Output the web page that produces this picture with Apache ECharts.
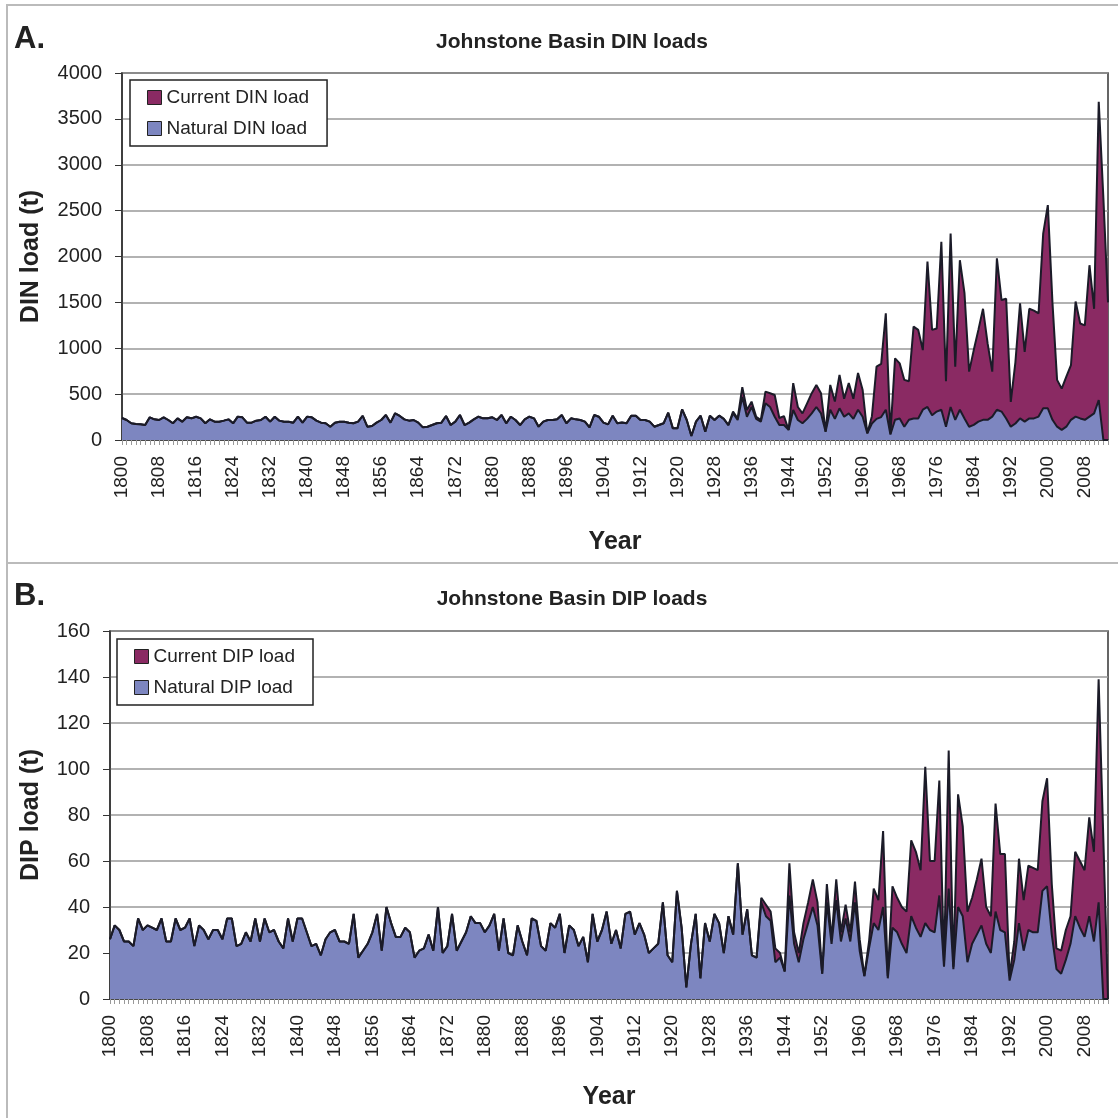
<!DOCTYPE html>
<html>
<head>
<meta charset="utf-8">
<script src="https://cdn.jsdelivr.net/npm/echarts@6/dist/echarts.min.js"></script>
<style>
  html, body { margin: 0; padding: 0; background: #fff; }
  #chart { width: 1118px; height: 1118px; }
</style>
</head>
<body>
<div id="chart"></div>
<script>
// years on the category axis
const firstYear = 1800
const lastYear = 2013
const years = []
for (let y = firstYear; y <= lastYear; y++) years.push(String(y))

// DIN loads (t), one value per year, 1800..2013
const dinNatural = [
  240, 218, 182, 175, 171, 163, 247, 225, 218, 247,
  218, 182, 236, 200, 247, 236, 254, 236, 182, 225,
  200, 200, 211, 225, 182, 254, 247, 189, 189, 211,
  218, 254, 200, 254, 211, 200, 200, 189, 254, 189,
  254, 247, 211, 189, 182, 145, 189, 200, 200, 189,
  182, 200, 262, 145, 152, 189, 218, 272, 189, 291,
  262, 225, 211, 218, 189, 138, 145, 163, 182, 189,
  262, 163, 200, 272, 163, 189, 225, 254, 236, 236,
  247, 218, 272, 182, 254, 218, 163, 225, 254, 236,
  145, 200, 218, 218, 225, 272, 182, 236, 225, 218,
  200, 138, 272, 254, 190, 170, 265, 182, 190, 182,
  265, 265, 218, 218, 200, 145, 163, 182, 298, 127,
  127, 334, 218, 44, 200, 265, 91, 265, 218, 265,
  230, 163, 290, 218, 470, 254, 360, 230, 200, 400,
  360, 254, 163, 163, 110, 327, 218, 182, 230, 290,
  360, 290, 91, 330, 230, 345, 254, 290, 230, 330,
  254, 73, 180, 230, 250, 330, 60, 220, 235, 145,
  220, 235, 235, 330, 360, 270, 310, 330, 145, 360,
  220, 330, 235, 145, 165, 200, 220, 220, 255, 330,
  310, 235, 145, 180, 235, 200, 235, 235, 255, 345,
  345, 220, 145, 110, 145, 220, 255, 235, 220, 255,
  290, 436, 0, 0
]
const dinCurrent = [
  240, 218, 182, 175, 171, 163, 247, 225, 218, 247,
  218, 182, 236, 200, 247, 236, 254, 236, 182, 225,
  200, 200, 211, 225, 182, 254, 247, 189, 189, 211,
  218, 254, 200, 254, 211, 200, 200, 189, 254, 189,
  254, 247, 211, 189, 182, 145, 189, 200, 200, 189,
  182, 200, 262, 145, 152, 189, 218, 272, 189, 291,
  262, 225, 211, 218, 189, 138, 145, 163, 182, 189,
  262, 163, 200, 272, 163, 189, 225, 254, 236, 236,
  247, 218, 272, 182, 254, 218, 163, 225, 254, 236,
  145, 200, 218, 218, 225, 272, 182, 236, 225, 218,
  200, 138, 272, 254, 190, 170, 265, 182, 190, 182,
  265, 265, 218, 218, 200, 145, 163, 182, 298, 127,
  127, 334, 218, 44, 200, 265, 91, 265, 218, 265,
  230, 163, 310, 235, 575, 327, 418, 254, 218, 527,
  510, 490, 240, 260, 110, 620, 360, 290, 400, 510,
  600, 510, 91, 600, 420, 710, 450, 620, 450, 730,
  545, 73, 260, 800, 830, 1380, 70, 890, 835, 655,
  640, 1235, 1200, 980, 1945, 1200, 1215, 2160, 640, 2250,
  800, 1960, 1600, 745, 980, 1200, 1430, 1050, 745, 1980,
  1525, 1540, 415, 850, 1490, 960, 1430, 1410, 1380, 2250,
  2560, 1500, 655, 560, 690, 815, 1510, 1270, 1250, 1905,
  1430, 3687, 2640, 1500
]

// DIP loads (t), one value per year, 1800..2013
const dipNatural = [
  26, 32, 30, 25, 25, 23, 35, 30, 32, 31,
  30, 35, 25, 25, 35, 30, 31, 35, 23, 32,
  30, 26, 30, 30, 26, 35, 35, 23, 24, 29,
  25, 35, 25, 35, 29, 30, 25, 22, 35, 25,
  35, 35, 29, 23, 24, 19, 26, 29, 30, 25,
  25, 24, 37, 18, 21, 24, 29, 37, 21, 40,
  33, 27, 27, 31, 29, 18, 21, 22, 28, 21,
  40, 20, 23, 37, 21, 25, 29, 36, 33, 33,
  29, 32, 37, 21, 35, 20, 19, 32, 25, 19,
  35, 34, 23, 21, 33, 31, 37, 20, 32, 30,
  23, 27, 16, 37, 25, 30, 38, 24, 30, 22,
  37, 38, 28, 33, 28, 20, 22, 24, 42, 19,
  16, 47, 31, 5, 24, 37, 9, 33, 25, 37,
  33, 20, 36, 28, 59, 28, 39, 19, 18, 42,
  36, 34, 16, 18, 12, 45, 24, 16, 26, 33,
  40, 32, 11, 42, 24, 43, 25, 35, 25, 42,
  21, 10, 22, 33, 30, 40, 9, 31, 29, 24,
  20, 36, 31, 27, 33, 30, 29, 45, 14, 48,
  13, 40, 36, 16, 24, 28, 32, 24, 20, 38,
  30, 29, 8, 17, 33, 21, 30, 29, 29, 47,
  49, 28, 13, 11, 17, 24, 36, 31, 27, 36,
  25, 42, 0, 0
]
const dipCurrent = [
  26, 32, 30, 25, 25, 23, 35, 30, 32, 31,
  30, 35, 25, 25, 35, 30, 31, 35, 23, 32,
  30, 26, 30, 30, 26, 35, 35, 23, 24, 29,
  25, 35, 25, 35, 29, 30, 25, 22, 35, 25,
  35, 35, 29, 23, 24, 19, 26, 29, 30, 25,
  25, 24, 37, 18, 21, 24, 29, 37, 21, 40,
  33, 27, 27, 31, 29, 18, 21, 22, 28, 21,
  40, 20, 23, 37, 21, 25, 29, 36, 33, 33,
  29, 32, 37, 21, 35, 20, 19, 32, 25, 19,
  35, 34, 23, 21, 33, 31, 37, 20, 32, 30,
  23, 27, 16, 37, 25, 30, 38, 24, 30, 22,
  37, 38, 28, 33, 28, 20, 22, 24, 42, 19,
  16, 47, 31, 5, 24, 37, 9, 33, 25, 37,
  33, 20, 36, 28, 59, 28, 39, 19, 18, 44,
  41, 38, 22, 20, 12, 59, 29, 20, 33, 42,
  52, 42, 11, 50, 26, 52, 29, 41, 29, 51,
  26, 10, 25, 48, 43, 73, 10, 49, 44, 40,
  38, 69, 64, 56, 101, 60, 60, 95, 16, 108,
  14, 89, 75, 38, 44, 52, 61, 40, 36, 85,
  63, 63, 10, 25, 61, 43, 58, 57, 56, 86,
  96, 50, 22, 21, 30, 36, 64, 60, 56, 79,
  64, 139, 70, 0
]

const FONT = "'Liberation Sans', Arial, sans-serif"
const PURPLE = "#8a2a63"
const BLUE = "#7d86c0"
const LINE = "#1b1b28"

const chart = echarts.init(document.getElementById("chart"), null, { renderer: "canvas" })

function yearAxis(gridIndex, gap) {
  return {
    type: "category",
    gridIndex,
    data: years,
    boundaryGap: false,
    name: "Year",
    nameLocation: "middle",
    nameGap: gap,
    nameTextStyle: { fontFamily: FONT, fontWeight: "bold", fontSize: 25, color: "#222" },
    axisLine: { lineStyle: { color: "#333", width: 1.5 } },
    axisTick: { interval: 0, length: 5, lineStyle: { color: "#999" } },
    axisLabel: { interval: 7, rotate: 90, margin: 16, fontSize: 19, color: "#222", fontFamily: FONT },
    splitLine: { show: false },
  }
}

function loadAxis(gridIndex, name, max, interval, gap) {
  return {
    type: "value",
    gridIndex,
    min: 0,
    max,
    interval,
    name,
    nameLocation: "middle",
    nameGap: gap,
    nameTextStyle: { fontFamily: FONT, fontWeight: "bold", fontSize: 25, color: "#222" },
    axisLine: { show: true, lineStyle: { color: "#333", width: 1.5 } },
    axisTick: { show: true, length: 7, lineStyle: { color: "#333" } },
    axisLabel: { fontSize: 20, color: "#222", fontFamily: FONT, margin: 20, formatter: (v) => String(v) },
    splitLine: { lineStyle: { color: "#999", width: 1.5 } },
  }
}

function areaSeries(name, data, color, idx) {
  return {
    name,
    type: "line",
    xAxisIndex: idx,
    yAxisIndex: idx,
    data,
    symbol: "none",
    lineStyle: { color: LINE, width: 2 },
    itemStyle: { color },
    areaStyle: { color, opacity: 1 },
  }
}

function legendBox(names, left, top) {
  return {
    orient: "vertical",
    left,
    top,
    itemWidth: 14,
    itemHeight: 14,
    itemGap: 12,
    itemTextGap: 6,
    padding: [8, 18, 8, 17],
    borderColor: "#222",
    borderWidth: 1.5,
    backgroundColor: "#fff",
    textStyle: { fontSize: 19, color: "#222", fontFamily: FONT },
    data: [
      { name: names[0], icon: "rect", itemStyle: { color: PURPLE, borderColor: "#222", borderWidth: 1 } },
      { name: names[1], icon: "rect", itemStyle: { color: BLUE, borderColor: "#222", borderWidth: 1 } },
    ],
  }
}

chart.setOption({
  animation: false,
  backgroundColor: "#fff",
  title: [
    {
      text: "Johnstone Basin DIN loads",
      left: 567, top: 27, textAlign: "center",
      textStyle: { fontFamily: FONT, fontWeight: "bold", fontSize: 21, color: "#222" },
    },
    {
      text: "Johnstone Basin DIP loads",
      left: 567, top: 584, textAlign: "center",
      textStyle: { fontFamily: FONT, fontWeight: "bold", fontSize: 21, color: "#222" },
    },
  ],
  graphic: [
    { type: "rect", shape: { x: 7, y: 5, width: 1130, height: 558 }, style: { fill: "none", stroke: "#bbb", lineWidth: 2 }, silent: true },
    { type: "rect", shape: { x: 7, y: 563, width: 1130, height: 570 }, style: { fill: "none", stroke: "#bbb", lineWidth: 2 }, silent: true },
    { type: "text", left: 14, top: 24, style: { text: "A.", font: "bold 31px " + FONT, fill: "#222" } },
    { type: "text", left: 14, top: 581, style: { text: "B.", font: "bold 31px " + FONT, fill: "#222" } },
  ],
  legend: [
    legendBox(["Current DIN load", "Natural DIN load"], 130, 80),
    legendBox(["Current DIP load", "Natural DIP load"], 117, 639),
  ],
  grid: [
    { left: 122, top: 73, width: 986, height: 367, show: true, borderColor: "#333", borderWidth: 1.5 },
    { left: 110, top: 631, width: 998, height: 368, show: true, borderColor: "#333", borderWidth: 1.5 },
  ],
  xAxis: [yearAxis(0, 90), yearAxis(1, 86)],
  yAxis: [
    loadAxis(0, "DIN load (t)", 4000, 500, 78),
    loadAxis(1, "DIP load (t)", 160, 20, 66),
  ],
  series: [
    areaSeries("Current DIN load", dinCurrent, PURPLE, 0),
    areaSeries("Natural DIN load", dinNatural, BLUE, 0),
    areaSeries("Current DIP load", dipCurrent, PURPLE, 1),
    areaSeries("Natural DIP load", dipNatural, BLUE, 1),
  ],
})

window.addEventListener("resize", () => chart.resize())
</script>
</body>
</html>
